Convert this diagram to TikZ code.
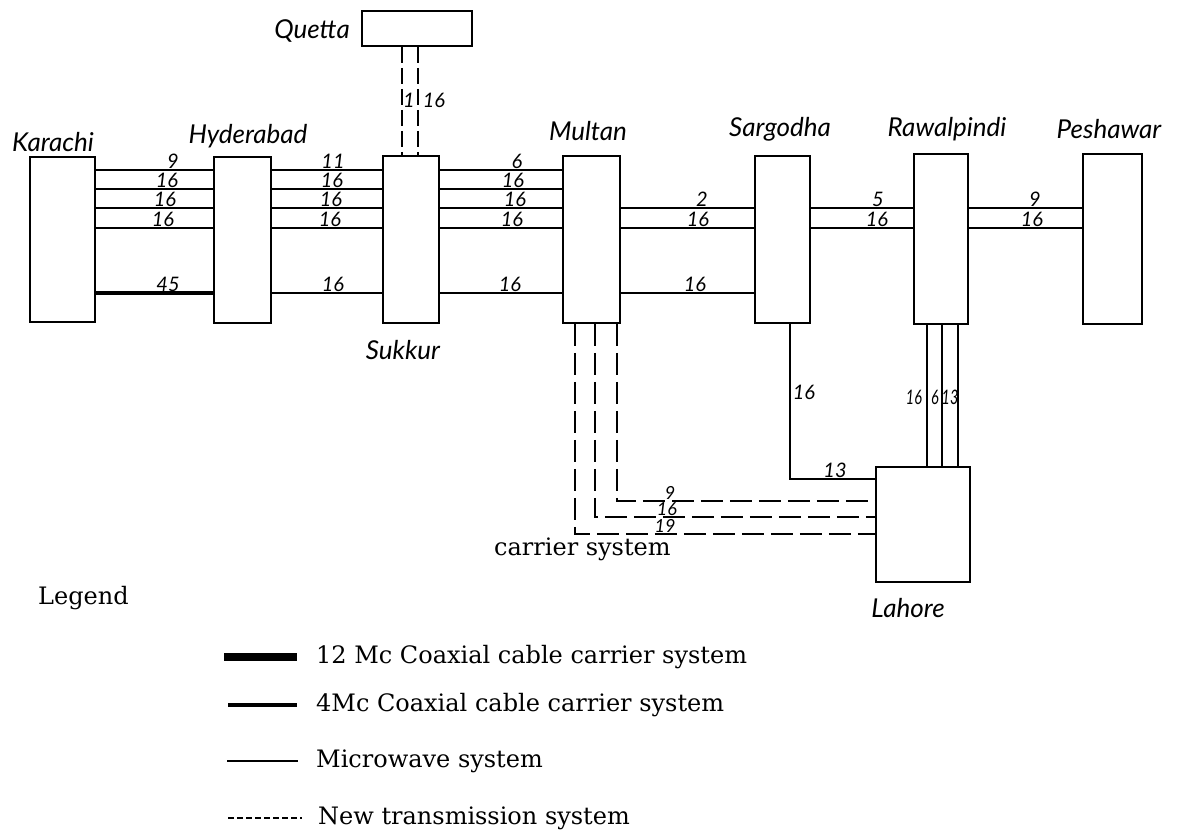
\documentclass[tikz,border=0pt]{standalone}
\usepackage{fontspec}
\setmainfont{DejaVu Serif}
\newfontfamily\handfont{Lato}
\tikzset{
  stn/.style={draw, line width=1.8pt, inner sep=0pt},
  link/.style={line width=1.5pt},
  coax/.style={line width=4pt},
  newlink/.style={line width=1.5pt, dash pattern=on 22pt off 7pt},
  place/.style={font=\handfont\itshape\fontsize{26}{28}\selectfont, inner sep=0pt},
  num/.style={font=\handfont\itshape\fontsize{20}{20}\selectfont, inner sep=1pt},
  smallnum/.style={font=\handfont\itshape\fontsize{18}{18}\selectfont, inner sep=0pt},
  legtext/.style={font=\fontsize{24}{26}\selectfont, anchor=west, inner sep=0pt},
}
\begin{document}
\begin{tikzpicture}[x=1pt,y=-1pt]
\useasboundingbox (0,0) rectangle (1178,831);
% stations
\node[stn, minimum width=65pt, minimum height=165pt] (kar) at (62.5,239.5) {};
\node[stn, minimum width=57pt, minimum height=166pt] (hyd) at (242.5,240) {};
\node[stn, minimum width=56pt, minimum height=167pt] (suk) at (411,239.5) {};
\node[stn, minimum width=110pt, minimum height=35pt] (que) at (417,28.5) {};
\node[stn, minimum width=57pt, minimum height=167pt] (mul) at (591.5,239.5) {};
\node[stn, minimum width=55pt, minimum height=167pt] (sar) at (782.5,239.5) {};
\node[stn, minimum width=54pt, minimum height=170pt] (raw) at (941,239) {};
\node[stn, minimum width=59pt, minimum height=170pt] (pes) at (1112.5,239) {};
\node[stn, minimum width=94pt, minimum height=115pt] (lah) at (923,524.5) {};
% station names
\node[place] (tkar) at (53,142) {Karachi};
\node[place] (thyd) at (248,136) {Hyderabad};
\node[place] (tque) at (312,31) {Quetta};
\node[place] (tmul) at (588,131) {Multan};
\node[place] (tsar) at (780,129) {Sargodha};
\node[place] (traw) at (947,129) {Rawalpindi};
\node[place] (tpes) at (1109,129) {Peshawar};
\node[place] (tsuk) at (403,350) {Sukkur};
\node[place] (tlah) at (908,608) {Lahore};
% row levels
\coordinate (r1) at (0,170);
\coordinate (r2) at (0,189);
\coordinate (r3) at (0,208);
\coordinate (r4) at (0,228);
\coordinate (r5) at (0,293);
% trunk lines
\foreach \r in {r1,r2,r3,r4} {
  \draw[link] (kar.east |- \r) -- (hyd.west |- \r);
  \draw[link] (hyd.east |- \r) -- (suk.west |- \r);
  \draw[link] (suk.east |- \r) -- (mul.west |- \r);
}
\foreach \r in {r3,r4} {
  \draw[link] (mul.east |- \r) -- (sar.west |- \r);
  \draw[link] (sar.east |- \r) -- (raw.west |- \r);
  \draw[link] (raw.east |- \r) -- (pes.west |- \r);
}
\draw[coax] (kar.east |- r5) -- (hyd.west |- r5);
\foreach \a/\b in {hyd/suk, suk/mul, mul/sar}
  \draw[link] (\a.east |- r5) -- (\b.west |- r5);
% Quetta
\coordinate (q1) at (402,0);
\coordinate (q2) at (418,0);
\draw[newlink, dash pattern=on 16pt off 5pt] (que.south -| q1) -- (suk.north -| q1);
\draw[newlink, dash pattern=on 16pt off 5pt] (que.south -| q2) -- (suk.north -| q2);
% Multan - Lahore
\coordinate (m1) at (575,534);
\coordinate (m2) at (595,517);
\coordinate (m3) at (617,501);
\foreach \m in {m1,m2,m3}
  \draw[newlink] (mul.south -| \m) -- (\m) -- (lah.west |- \m);
% Sargodha - Lahore
\coordinate (s1) at (790,479);
\draw[link] (sar.south -| s1) -- (s1) -- (lah.west |- s1);
% Rawalpindi - Lahore
\coordinate (w1) at (927,0);
\coordinate (w2) at (942,0);
\coordinate (w3) at (958,0);
\foreach \w in {w1,w2,w3}
  \draw[link] (raw.south -| \w) -- (lah.north -| \w);
% channel numbers
\node[num, anchor=south] (a1) at (173,170) {9};
\node[num, anchor=south] (a2) at (167,189) {16};
\node[num, anchor=south] (a3) at (165,208) {16};
\node[num, anchor=south] (a4) at (163,228) {16};
\node[num, anchor=south] (a5) at (168,293) {45};
\node[num, anchor=south] (b1) at (333,170) {11};
\node[num, anchor=south] (b2) at (332,189) {16};
\node[num, anchor=south] (b3) at (331,208) {16};
\node[num, anchor=south] (b4) at (330,228) {16};
\node[num, anchor=south] (b5) at (333,293) {16};
\node[num, anchor=south] (c1) at (517,170) {6};
\node[num, anchor=south] (c2) at (513,189) {16};
\node[num, anchor=south] (c3) at (515,208) {16};
\node[num, anchor=south] (c4) at (512,228) {16};
\node[num, anchor=south] (c5) at (510,293) {16};
\node[num, anchor=south] (d3) at (702,208) {2};
\node[num, anchor=south] (d4) at (698,228) {16};
\node[num, anchor=south] (d5) at (695,293) {16};
\node[num, anchor=south] (e3) at (878,208) {5};
\node[num, anchor=south] (e4) at (877,228) {16};
\node[num, anchor=south] (f3) at (1035,208) {9};
\node[num, anchor=south] (f4) at (1032,228) {16};
\node[num] (g1) at (409,100) {1};
\node[num] (g2) at (434,100) {16};
\node[smallnum, anchor=south] (h1) at (670,500) {9};
\node[smallnum, anchor=south] (h2) at (667,516) {16};
\node[smallnum, anchor=south] (h3) at (665,533) {19};
\node[num] (k1) at (804,392) {16};
\node[num, anchor=south] (k2) at (835,479) {13};
\node[num, inner sep=0pt] (p1) at (914,397) {\scalebox{0.72}[1]{16}};
\node[num, inner sep=0pt] (p2) at (935,397) {\scalebox{0.72}[1]{6}};
\node[num, inner sep=0pt] (p3) at (950,397) {\scalebox{0.72}[1]{13}};
% notes
\node[font=\fontsize{24}{26}\selectfont, inner sep=0pt, anchor=west] (carr) at (494,549) {carrier system};
\node[legtext] (leg) at (38,598) {Legend};
% legend swatches
\coordinate (L1a) at (224,657); \coordinate (L1b) at (297,657);
\coordinate (L2a) at (228,705); \coordinate (L2b) at (297,705);
\coordinate (L3a) at (227,761); \coordinate (L3b) at (298,761);
\coordinate (L4a) at (228,818); \coordinate (L4b) at (302,818);
\draw[line width=8pt] (L1a) -- (L1b);
\draw[line width=4pt] (L2a) -- (L2b);
\draw[line width=1.5pt] (L3a) -- (L3b);
\draw[line width=1.5pt, dash pattern=on 6pt off 3pt] (L4a) -- (L4b);
\node[legtext] (lt1) at (316,657) {12 Mc Coaxial cable carrier system};
\node[legtext] (lt2) at (316,705) {4Mc Coaxial cable carrier system};
\node[legtext] (lt3) at (316,761) {Microwave system};
\node[legtext] (lt4) at (318,818) {New transmission system};
\end{tikzpicture}
\end{document}
